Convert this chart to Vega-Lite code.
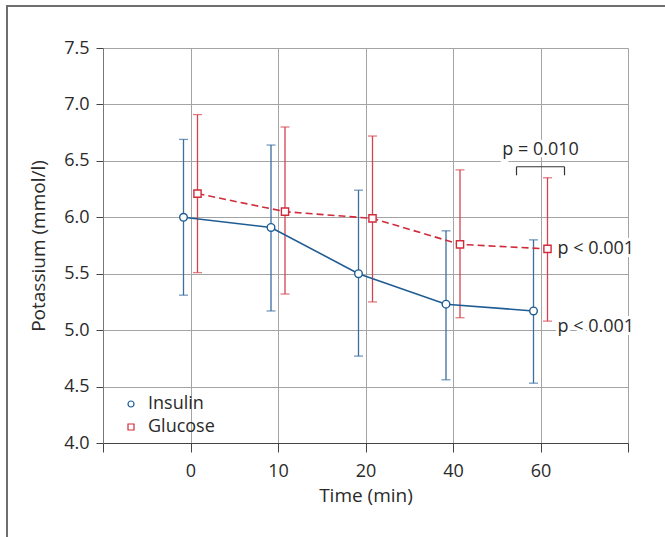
{
  "$schema": "https://vega.github.io/schema/vega-lite/v6.json",
  "width": 525,
  "height": 395,
  "autosize": {"type": "none"},
  "padding": {"left": 103, "top": 48, "right": 37, "bottom": 94},
  "background": "white",
  "config": {
    "font": "Open Sans",
    "view": {"stroke": null},
    "axis": {"titleFontWeight": "normal", "titleColor": "#2a2a2a", "labelColor": "#2a2a2a"},
    "axisX": {
      "titleFontSize": 19, "titlePadding": 6,
      "labelFontSize": 18, "labelPadding": 10, "labelAngle": 0,
      "tickSize": 9, "tickColor": "#444", "domainColor": "#444",
      "grid": true, "gridColor": "#a4a4a4"
    },
    "axisY": {
      "titleFontSize": 19, "titlePadding": 15,
      "labelFontSize": 18, "labelPadding": 7, "tickSize": 7,
      "tickColor": "#444", "domainColor": "#777",
      "grid": true, "gridColor": "#a4a4a4"
    }
  },
  "datasets": {
    "series": [
      {"group": "Insulin", "time": "0", "mean": 6.0, "lo": 5.31, "hi": 6.69},
      {"group": "Insulin", "time": "10", "mean": 5.91, "lo": 5.17, "hi": 6.64},
      {"group": "Insulin", "time": "20", "mean": 5.5, "lo": 4.77, "hi": 6.24},
      {"group": "Insulin", "time": "40", "mean": 5.23, "lo": 4.56, "hi": 5.88},
      {"group": "Insulin", "time": "60", "mean": 5.17, "lo": 4.53, "hi": 5.8},
      {"group": "Glucose", "time": "0", "mean": 6.21, "lo": 5.51, "hi": 6.91},
      {"group": "Glucose", "time": "10", "mean": 6.05, "lo": 5.32, "hi": 6.8},
      {"group": "Glucose", "time": "20", "mean": 5.99, "lo": 5.25, "hi": 6.72},
      {"group": "Glucose", "time": "40", "mean": 5.76, "lo": 5.11, "hi": 6.42},
      {"group": "Glucose", "time": "60", "mean": 5.72, "lo": 5.08, "hi": 6.35}
    ],
    "notes": [
      {"time": "60", "y": 5.72, "label": "p < 0.001"},
      {"time": "60", "y": 5.03, "label": "p < 0.001"}
    ],
    "bracket": [
      {"time": "60", "top": 6.448, "bottom": 6.372, "texty": 6.596, "label": "p = 0.010"}
    ]
  },
  "layer": [
    {
      "data": {"name": "series"},
      "transform": [{"filter": "datum.group == 'Insulin'"}],
      "mark": {"type": "rule", "color": "#3a6f9f", "strokeWidth": 1.3, "xOffset": -7},
      "encoding": {
        "x": {
          "field": "time", "type": "ordinal",
          "scale": {"type": "point", "domain": ["pre", "0", "10", "20", "40", "60", "post"], "padding": 0},
          "axis": {
            "title": "Time (min)",
            "labelExpr": "datum.value == 'pre' || datum.value == 'post' ? '' : datum.value",
            "grid": true
          }
        },
        "y": {
          "field": "lo", "type": "quantitative",
          "scale": {"domain": [4, 7.5], "nice": false, "zero": false},
          "axis": {
            "title": "Potassium (mmol/l)",
            "values": [4, 4.5, 5, 5.5, 6, 6.5, 7, 7.5], "format": ".1f",
            "grid": true
          }
        },
        "y2": {"field": "hi"}
      }
    },
    {
      "data": {"name": "series"},
      "transform": [{"filter": "datum.group == 'Glucose'"}],
      "mark": {"type": "rule", "color": "#d5434f", "strokeWidth": 1.3, "xOffset": 7},
      "encoding": {
        "x": {"field": "time", "type": "ordinal"},
        "y": {"field": "lo", "type": "quantitative"},
        "y2": {"field": "hi"}
      }
    },
    {
      "data": {"name": "series"},
      "transform": [{"filter": "datum.group == 'Insulin'"}, {"fold": ["lo", "hi"], "as": ["end", "val"]}],
      "mark": {"type": "tick", "orient": "horizontal", "color": "#3a6f9f", "size": 9, "thickness": 1.3, "xOffset": -7},
      "encoding": {
        "x": {"field": "time", "type": "ordinal"},
        "y": {"field": "val", "type": "quantitative"}
      }
    },
    {
      "data": {"name": "series"},
      "transform": [{"filter": "datum.group == 'Glucose'"}, {"fold": ["lo", "hi"], "as": ["end", "val"]}],
      "mark": {"type": "tick", "orient": "horizontal", "color": "#d5434f", "size": 9, "thickness": 1.3, "xOffset": 7},
      "encoding": {
        "x": {"field": "time", "type": "ordinal"},
        "y": {"field": "val", "type": "quantitative"}
      }
    },
    {
      "data": {"name": "series"},
      "transform": [{"filter": "datum.group == 'Insulin'"}],
      "mark": {"type": "line", "color": "#1f5c93", "strokeWidth": 1.6, "xOffset": -7},
      "encoding": {
        "x": {"field": "time", "type": "ordinal"},
        "y": {"field": "mean", "type": "quantitative"}
      }
    },
    {
      "data": {"name": "series"},
      "transform": [{"filter": "datum.group == 'Glucose'"}],
      "mark": {"type": "line", "color": "#d02b3b", "strokeWidth": 1.6, "strokeDash": [7, 4], "xOffset": 7},
      "encoding": {
        "x": {"field": "time", "type": "ordinal"},
        "y": {"field": "mean", "type": "quantitative"}
      }
    },
    {
      "data": {"name": "series"},
      "transform": [{"filter": "datum.group == 'Insulin'"}],
      "mark": {"type": "point", "filled": false, "fill": "white", "fillOpacity": 1, "size": 58, "strokeWidth": 1.4, "opacity": 1, "xOffset": -7},
      "encoding": {
        "x": {"field": "time", "type": "ordinal"},
        "y": {"field": "mean", "type": "quantitative"},
        "stroke": {
          "field": "group", "type": "nominal",
          "scale": {"domain": ["Insulin", "Glucose"], "range": ["#1f5c93", "#d02b3b"]},
          "legend": {
            "title": null, "orient": "none", "legendX": 19, "legendY": 347,
            "labelFontSize": 18, "labelColor": "#2a2a2a", "symbolSize": 36,
            "symbolStrokeWidth": 1.2, "symbolFillColor": "white", "labelOffset": 8,
            "rowPadding": 5, "padding": 0
          }
        },
        "shape": {
          "field": "group", "type": "nominal",
          "scale": {"domain": ["Insulin", "Glucose"], "range": ["circle", "square"]}
        }
      }
    },
    {
      "data": {"name": "series"},
      "transform": [{"filter": "datum.group == 'Glucose'"}],
      "mark": {"type": "point", "filled": false, "fill": "white", "fillOpacity": 1, "size": 52, "strokeWidth": 1.4, "opacity": 1, "xOffset": 7},
      "encoding": {
        "x": {"field": "time", "type": "ordinal"},
        "y": {"field": "mean", "type": "quantitative"},
        "stroke": {"field": "group", "type": "nominal"},
        "shape": {"field": "group", "type": "nominal"}
      }
    },
    {
      "data": {"name": "notes"},
      "mark": {"type": "text", "align": "left", "baseline": "middle", "fontSize": 18, "xOffset": 17, "stroke": "white", "strokeWidth": 6, "fill": "white"},
      "encoding": {
        "x": {"field": "time", "type": "ordinal"},
        "y": {"field": "y", "type": "quantitative"},
        "text": {"field": "label"}
      }
    },
    {
      "data": {"name": "notes"},
      "mark": {"type": "text", "align": "left", "baseline": "middle", "fontSize": 18, "xOffset": 17, "color": "#2a2a2a"},
      "encoding": {
        "x": {"field": "time", "type": "ordinal"},
        "y": {"field": "y", "type": "quantitative"},
        "text": {"field": "label"}
      }
    },
    {
      "data": {"name": "bracket"},
      "mark": {"type": "text", "align": "center", "baseline": "middle", "fontSize": 18, "stroke": "white", "strokeWidth": 6, "fill": "white"},
      "encoding": {
        "x": {"field": "time", "type": "ordinal"},
        "y": {"field": "texty", "type": "quantitative"},
        "text": {"field": "label"}
      }
    },
    {
      "data": {"name": "bracket"},
      "mark": {"type": "text", "align": "center", "baseline": "middle", "fontSize": 18, "color": "#2a2a2a"},
      "encoding": {
        "x": {"field": "time", "type": "ordinal"},
        "y": {"field": "texty", "type": "quantitative"},
        "text": {"field": "label"}
      }
    },
    {
      "data": {"name": "bracket"},
      "mark": {"type": "rule", "color": "#333", "strokeWidth": 1.2, "xOffset": -24, "x2Offset": 24},
      "encoding": {
        "x": {"field": "time", "type": "ordinal"},
        "x2": {"field": "time"},
        "y": {"field": "top", "type": "quantitative"}
      }
    },
    {
      "data": {"name": "bracket"},
      "mark": {"type": "rule", "color": "#333", "strokeWidth": 1.2, "xOffset": -24},
      "encoding": {
        "x": {"field": "time", "type": "ordinal"},
        "y": {"field": "top", "type": "quantitative"},
        "y2": {"field": "bottom"}
      }
    },
    {
      "data": {"name": "bracket"},
      "mark": {"type": "rule", "color": "#333", "strokeWidth": 1.2, "xOffset": 24},
      "encoding": {
        "x": {"field": "time", "type": "ordinal"},
        "y": {"field": "top", "type": "quantitative"},
        "y2": {"field": "bottom"}
      }
    },
    {
      "data": {"values": [{}]},
      "mark": {"type": "rect", "filled": false, "color": "#6e6e6e", "strokeWidth": 2, "xOffset": -96, "x2Offset": 45, "yOffset": -42, "y2Offset": 110},
      "encoding": {
        "x": {"datum": "pre", "type": "ordinal"},
        "x2": {"datum": "post"},
        "y": {"datum": 7.5, "type": "quantitative"},
        "y2": {"datum": 4}
      }
    }
  ]
}
